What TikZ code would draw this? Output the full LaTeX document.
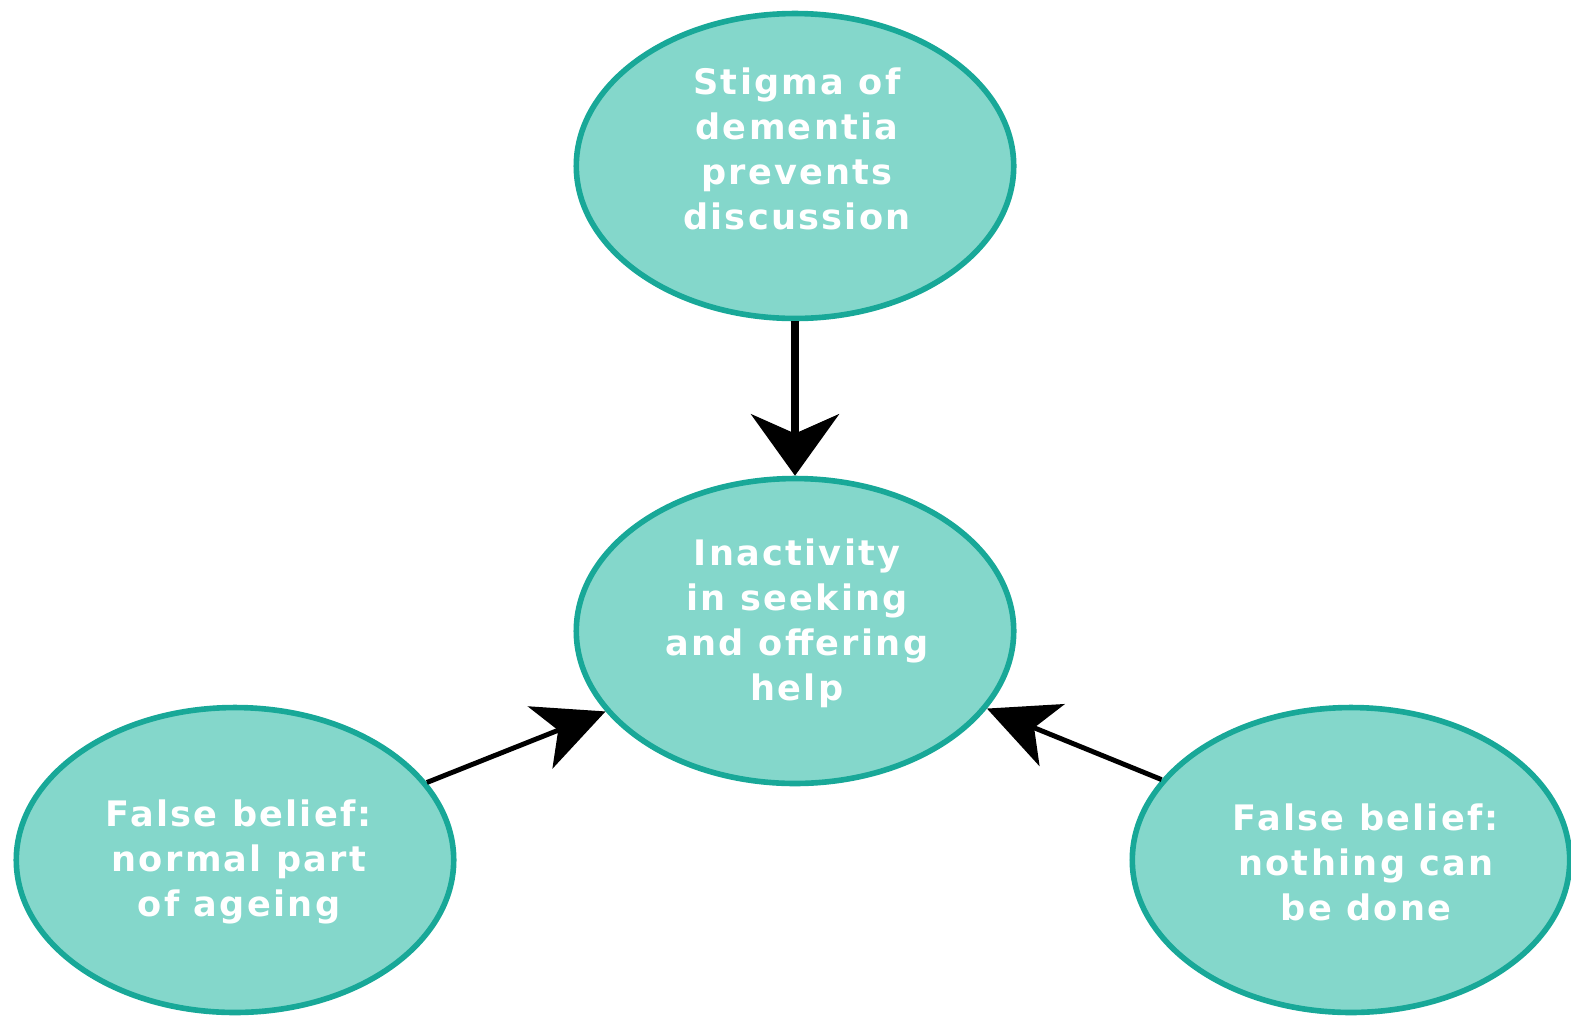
\documentclass[tikz,border=0pt]{standalone}
\usepackage{fontspec}
\setmainfont[LetterSpace=6.5]{DejaVu Sans}
\usepackage{tikz}
\usetikzlibrary{arrows.meta,shapes.geometric}
\definecolor{tealfill}{RGB}{132,215,203}
\definecolor{tealline}{RGB}{24,168,152}
\tikzset{
  causebox/.style  = {ellipse, draw=tealline, fill=tealfill, line width=3.2pt,
                      minimum width=8.75cm, minimum height=6.1cm, inner sep=0pt},
  causetext/.style = {text=white, align=center,
                      font=\bfseries\fontsize{20}{25.6}\selectfont},
  mainar/.style    = {-{Stealth[length=35pt,width=50pt,inset=11pt]}, line width=4.3pt},
  sidear/.style    = {-{Stealth[length=40pt,width=38pt,inset=11pt]}, line width=2.8pt}
}
\begin{document}
\begin{tikzpicture}[x=0.02cm, y=-0.02cm]
  \useasboundingbox (0,0) rectangle (1571,1018);
  \node[causebox] (stigma) at (795,166) {};
  \node[causebox] (inact)  at (795,631) {};
  \node[causebox] (ageing) at (235,860) {};
  \node[causebox] (nothing) at (1351,860) {};
  \node[causetext] (stigmat)  at (797,149) {Stigma of\\dementia\\prevents\\discussion};
  \node[causetext] (inactt)   at (797,623) {Inactivity\\in seeking\\and offering\\help};
  \node[causetext] (ageingt)  at (239,862) {False belief:\\normal part\\of ageing};
  \node[causetext] (nothingt) at (1366,862) {False belief:\\nothing can\\be done};
  \draw[mainar] (stigma.south) -- (inact.north);
  \draw[sidear] (ageing.22) -- (inact.203.4);
  \draw[sidear] (nothing.157.6) -- (inact.-22.9);
\end{tikzpicture}
\end{document}
